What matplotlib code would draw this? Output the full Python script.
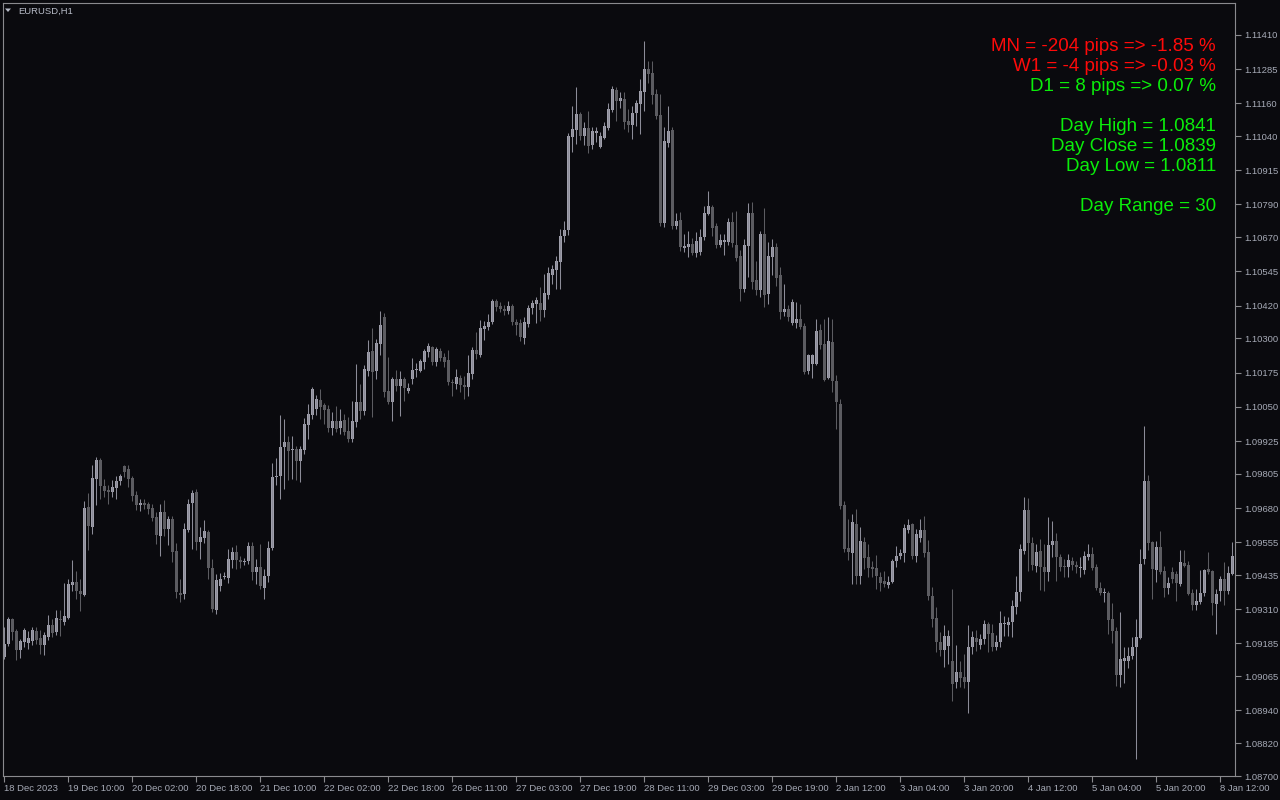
#!/usr/bin/env python
""" EURUSD H1 candle chart, MT4 dark style """

# Imports
import numpy as np
import matplotlib as mpl

mpl.use("Agg")
import matplotlib.pyplot as plt
from matplotlib.patches import Polygon

# Fonts
mpl.rcParams["font.family"] = ["Liberation Sans", "DejaVu Sans"]

# Hourly bars, 18 Dec 2023 .. 8 Jan 2024
open_ = [
    1.09135, 1.09183, 1.09274, 1.09231, 1.09160, 1.09190, 1.09186, 1.09194, 1.09231, 1.09205,
    1.09179, 1.09209, 1.09252, 1.09227, 1.09274, 1.09263, 1.09278, 1.09398, 1.09409, 1.09377,
    1.09362, 1.09684, 1.09611, 1.09786, 1.09855, 1.09760, 1.09746, 1.09739, 1.09753, 1.09779,
    1.09833, 1.09823, 1.09790, 1.09728, 1.09691, 1.09698, 1.09695, 1.09680, 1.09647, 1.09577,
    1.09665, 1.09603, 1.09640, 1.09523, 1.09369, 1.09366, 1.09599, 1.09698, 1.09739, 1.09556,
    1.09570, 1.09592, 1.09461, 1.09307, 1.09394, 1.09428, 1.09424, 1.09490, 1.09519, 1.09490,
    1.09483, 1.09487, 1.09541, 1.09446, 1.09465, 1.09387, 1.09431, 1.09534, 1.09794, 1.09797,
    1.09903, 1.09921, 1.09892, 1.09896, 1.09852, 1.09892, 1.09984, 1.10020, 1.10042, 1.10075,
    1.10057, 1.10042, 1.09973, 1.09999, 1.09973, 1.10002, 1.09962, 1.09932, 1.09995, 1.10068,
    1.10035, 1.10181, 1.10255, 1.10181, 1.10280, 1.10379, 1.10108, 1.10068, 1.10152, 1.10126,
    1.10152, 1.10108, 1.10152, 1.10184, 1.10181, 1.10214, 1.10251, 1.10269, 1.10214, 1.10255,
    1.10233, 1.10221, 1.10141, 1.10134, 1.10155, 1.10130, 1.10123, 1.10170, 1.10258, 1.10240,
    1.10335, 1.10342, 1.10360, 1.10437, 1.10418, 1.10408, 1.10401, 1.10418, 1.10360, 1.10356,
    1.10302, 1.10353, 1.10411, 1.10426, 1.10429, 1.10404, 1.10459, 1.10532, 1.10550, 1.10580,
    1.10674, 1.10696, 1.11037, 1.11062, 1.11121, 1.11040, 1.11070, 1.11008, 1.11051, 1.11001,
    1.11033, 1.11070, 1.11135, 1.11208, 1.11169, 1.11176, 1.11096, 1.11081, 1.11124, 1.11158,
    1.11201, 1.11286, 1.11271, 1.11194, 1.11117, 1.10722, 1.11015, 1.11062, 1.10711, 1.10733,
    1.10631, 1.10635, 1.10646, 1.10612, 1.10616, 1.10671, 1.10756, 1.10781, 1.10711, 1.10642,
    1.10653, 1.10653, 1.10726, 1.10642, 1.10601, 1.10481, 1.10638, 1.10759, 1.10514, 1.10477,
    1.10682, 1.10463, 1.10598, 1.10635, 1.10532, 1.10397, 1.10408, 1.10356, 1.10356, 1.10371,
    1.10345, 1.10181, 1.10207, 1.10207, 1.10331, 1.10280, 1.10155, 1.10287, 1.10145, 1.10061,
    1.09691, 1.09534, 1.09515, 1.09622, 1.09431, 1.09556, 1.09501, 1.09465, 1.09461, 1.09428,
    1.09413, 1.09398, 1.09409, 1.09487, 1.09504, 1.09515, 1.09599, 1.09622, 1.09504, 1.09570,
    1.09599, 1.09519, 1.09358, 1.09278, 1.09190, 1.09160, 1.09175, 1.09121, 1.09044, 1.09080,
    1.09062, 1.09044, 1.09172, 1.09205, 1.09179, 1.09201, 1.09256, 1.09223, 1.09172, 1.09190,
    1.09256, 1.09252, 1.09263, 1.09318, 1.09373, 1.09523, 1.09672, 1.09552, 1.09468, 1.09523,
    1.09465, 1.09446, 1.09545, 1.09560, 1.09501, 1.09468, 1.09465, 1.09487, 1.09472, 1.09461,
    1.09453, 1.09501, 1.09512, 1.09465, 1.09387, 1.09369, 1.09369, 1.09274, 1.09231, 1.09069,
    1.09121, 1.09121, 1.09138, 1.09172, 1.09205, 1.09494, 1.09779, 1.09556, 1.09453, 1.09538,
    1.09450, 1.09387, 1.09446, 1.09439, 1.09402, 1.09479, 1.09472, 1.09369, 1.09325, 1.09336,
    1.09369, 1.09457, 1.09450, 1.09329, 1.09377, 1.09420, 1.09377, 1.09439,
]

high = [
    1.09245, 1.09282, 1.09278, 1.09238, 1.09201, 1.09241, 1.09231, 1.09245, 1.09245, 1.09234,
    1.09227, 1.09289, 1.09274, 1.09307, 1.09307, 1.09405, 1.09420, 1.09490, 1.09450, 1.09420,
    1.09706, 1.09735, 1.09837, 1.09867, 1.09863, 1.09786, 1.09764, 1.09782, 1.09797, 1.09805,
    1.09837, 1.09837, 1.09797, 1.09743, 1.09713, 1.09713, 1.09702, 1.09695, 1.09665, 1.09695,
    1.09709, 1.09650, 1.09650, 1.09552, 1.09420, 1.09625, 1.09713, 1.09746, 1.09750, 1.09611,
    1.09636, 1.09599, 1.09494, 1.09439, 1.09442, 1.09446, 1.09530, 1.09538, 1.09545, 1.09504,
    1.09497, 1.09556, 1.09556, 1.09494, 1.09549, 1.09457, 1.09560, 1.09844, 1.09863, 1.10020,
    1.10006, 1.09943, 1.09943, 1.09906, 1.09906, 1.10009, 1.10061, 1.10123, 1.10093, 1.10115,
    1.10064, 1.10057, 1.10031, 1.10053, 1.10042, 1.10024, 1.10013, 1.10072, 1.10207, 1.10134,
    1.10203, 1.10294, 1.10338, 1.10298, 1.10401, 1.10393, 1.10233, 1.10159, 1.10184, 1.10181,
    1.10159, 1.10137, 1.10229, 1.10210, 1.10225, 1.10262, 1.10283, 1.10272, 1.10269, 1.10265,
    1.10247, 1.10258, 1.10152, 1.10188, 1.10166, 1.10162, 1.10240, 1.10269, 1.10324, 1.10367,
    1.10364, 1.10390, 1.10444, 1.10444, 1.10433, 1.10422, 1.10437, 1.10426, 1.10371, 1.10371,
    1.10379, 1.10422, 1.10440, 1.10452, 1.10489, 1.10536, 1.10562, 1.10569, 1.10601, 1.10700,
    1.10730, 1.11051, 1.11150, 1.11220, 1.11128, 1.11092, 1.11132, 1.11074, 1.11074, 1.11055,
    1.11092, 1.11161, 1.11223, 1.11220, 1.11201, 1.11201, 1.11139, 1.11150, 1.11172, 1.11249,
    1.11388, 1.11315, 1.11315, 1.11212, 1.11194, 1.11074, 1.11150, 1.11074, 1.10759, 1.10763,
    1.10682, 1.10693, 1.10667, 1.10689, 1.10700, 1.10784, 1.10840, 1.10788, 1.10722, 1.10682,
    1.10682, 1.10741, 1.10763, 1.10767, 1.10623, 1.10664, 1.10795, 1.10799, 1.10584, 1.10693,
    1.10777, 1.10653, 1.10664, 1.10649, 1.10562, 1.10500, 1.10422, 1.10444, 1.10433, 1.10426,
    1.10356, 1.10244, 1.10244, 1.10371, 1.10353, 1.10371, 1.10379, 1.10371, 1.10166, 1.10079,
    1.09706, 1.09640, 1.09658, 1.09676, 1.09611, 1.09574, 1.09549, 1.09487, 1.09508, 1.09446,
    1.09450, 1.09431, 1.09494, 1.09541, 1.09530, 1.09622, 1.09640, 1.09625, 1.09603, 1.09640,
    1.09650, 1.09563, 1.09391, 1.09318, 1.09227, 1.09252, 1.09234, 1.09384, 1.09179, 1.09121,
    1.09146, 1.09252, 1.09231, 1.09234, 1.09220, 1.09270, 1.09263, 1.09256, 1.09216, 1.09304,
    1.09285, 1.09282, 1.09343, 1.09431, 1.09549, 1.09721, 1.09717, 1.09574, 1.09549, 1.09567,
    1.09549, 1.09647, 1.09633, 1.09588, 1.09512, 1.09494, 1.09512, 1.09501, 1.09487, 1.09501,
    1.09523, 1.09549, 1.09538, 1.09476, 1.09409, 1.09387, 1.09377, 1.09332, 1.09245, 1.09300,
    1.09172, 1.09172, 1.09209, 1.09274, 1.09530, 1.09980, 1.09801, 1.09560, 1.09560, 1.09596,
    1.09468, 1.09428, 1.09465, 1.09450, 1.09526, 1.09526, 1.09487, 1.09384, 1.09384, 1.09453,
    1.09457, 1.09519, 1.09455, 1.09384, 1.09431, 1.09483, 1.09468, 1.09556,
]

low = [
    1.09128, 1.09175, 1.09197, 1.09124, 1.09131, 1.09172, 1.09164, 1.09179, 1.09183, 1.09146,
    1.09142, 1.09197, 1.09209, 1.09216, 1.09212, 1.09252, 1.09274, 1.09377, 1.09347, 1.09304,
    1.09358, 1.09526, 1.09585, 1.09691, 1.09713, 1.09721, 1.09695, 1.09721, 1.09713, 1.09764,
    1.09794, 1.09757, 1.09706, 1.09672, 1.09669, 1.09676, 1.09658, 1.09633, 1.09549, 1.09504,
    1.09577, 1.09545, 1.09483, 1.09351, 1.09336, 1.09347, 1.09592, 1.09530, 1.09526, 1.09494,
    1.09552, 1.09420, 1.09300, 1.09293, 1.09377, 1.09420, 1.09405, 1.09461, 1.09457, 1.09461,
    1.09472, 1.09476, 1.09416, 1.09402, 1.09384, 1.09347, 1.09409, 1.09526, 1.09764, 1.09713,
    1.09750, 1.09782, 1.09786, 1.09782, 1.09775, 1.09878, 1.09932, 1.10006, 1.10020, 1.10006,
    1.09988, 1.09958, 1.09947, 1.09958, 1.09951, 1.09947, 1.09921, 1.09921, 1.09977, 1.10006,
    1.10020, 1.10162, 1.10013, 1.10152, 1.10240, 1.10086, 1.10061, 1.09999, 1.10108, 1.10016,
    1.10072, 1.10100, 1.10134, 1.10159, 1.10177, 1.10188, 1.10233, 1.10203, 1.10199, 1.10218,
    1.10196, 1.10130, 1.10089, 1.10115, 1.10104, 1.10079, 1.10089, 1.10152, 1.10225, 1.10233,
    1.10294, 1.10331, 1.10353, 1.10401, 1.10397, 1.10386, 1.10390, 1.10349, 1.10313, 1.10291,
    1.10280, 1.10342, 1.10390, 1.10356, 1.10364, 1.10379, 1.10444, 1.10500, 1.10481, 1.10481,
    1.10653, 1.10678, 1.10982, 1.11012, 1.11026, 1.11008, 1.10978, 1.10993, 1.11019, 1.10997,
    1.11030, 1.11062, 1.11128, 1.11096, 1.11143, 1.11066, 1.11055, 1.11030, 1.11077, 1.11048,
    1.11132, 1.11234, 1.11158, 1.11103, 1.10711, 1.10708, 1.11001, 1.10700, 1.10700, 1.10620,
    1.10616, 1.10598, 1.10605, 1.10598, 1.10605, 1.10660, 1.10752, 1.10674, 1.10631, 1.10635,
    1.10605, 1.10642, 1.10635, 1.10584, 1.10437, 1.10470, 1.10525, 1.10481, 1.10459, 1.10452,
    1.10415, 1.10426, 1.10532, 1.10492, 1.10371, 1.10382, 1.10364, 1.10349, 1.10338, 1.10335,
    1.10170, 1.10170, 1.10155, 1.10203, 1.10262, 1.10145, 1.10152, 1.10104, 1.09969, 1.09676,
    1.09519, 1.09490, 1.09402, 1.09402, 1.09402, 1.09457, 1.09428, 1.09428, 1.09384, 1.09377,
    1.09391, 1.09387, 1.09405, 1.09465, 1.09494, 1.09483, 1.09588, 1.09494, 1.09483, 1.09556,
    1.09501, 1.09343, 1.09245, 1.09153, 1.09138, 1.09099, 1.09110, 1.08975, 1.09022, 1.09026,
    1.09022, 1.08930, 1.09146, 1.09157, 1.09164, 1.09183, 1.09153, 1.09157, 1.09160, 1.09172,
    1.09212, 1.09212, 1.09209, 1.09293, 1.09340, 1.09512, 1.09450, 1.09453, 1.09446, 1.09380,
    1.09377, 1.09413, 1.09501, 1.09413, 1.09450, 1.09428, 1.09428, 1.09453, 1.09442, 1.09428,
    1.09439, 1.09490, 1.09453, 1.09380, 1.09362, 1.09336, 1.09220, 1.09186, 1.09029, 1.09026,
    1.09040, 1.09095, 1.09128, 1.08762, 1.09201, 1.09476, 1.09526, 1.09347, 1.09409, 1.09439,
    1.09354, 1.09366, 1.09405, 1.09340, 1.09394, 1.09465, 1.09362, 1.09307, 1.09307, 1.09330,
    1.09358, 1.09439, 1.09289, 1.09220, 1.09340, 1.09325, 1.09366, 1.09435,
]

close = [
    1.09183, 1.09274, 1.09227, 1.09160, 1.09194, 1.09234, 1.09205, 1.09234, 1.09197, 1.09179,
    1.09216, 1.09252, 1.09223, 1.09278, 1.09270, 1.09285, 1.09402, 1.09409, 1.09377, 1.09366,
    1.09680, 1.09614, 1.09790, 1.09855, 1.09760, 1.09743, 1.09739, 1.09757, 1.09779, 1.09797,
    1.09812, 1.09786, 1.09724, 1.09691, 1.09698, 1.09691, 1.09676, 1.09643, 1.09581, 1.09665,
    1.09603, 1.09640, 1.09519, 1.09373, 1.09362, 1.09603, 1.09695, 1.09735, 1.09556, 1.09574,
    1.09596, 1.09461, 1.09311, 1.09416, 1.09420, 1.09431, 1.09494, 1.09519, 1.09490, 1.09483,
    1.09487, 1.09541, 1.09446, 1.09465, 1.09394, 1.09431, 1.09534, 1.09794, 1.09797, 1.09903,
    1.09921, 1.09889, 1.09892, 1.09852, 1.09896, 1.09988, 1.10024, 1.10115, 1.10079, 1.10050,
    1.10038, 1.09973, 1.09999, 1.09969, 1.09999, 1.09958, 1.09932, 1.09999, 1.10068, 1.10035,
    1.10188, 1.10251, 1.10177, 1.10283, 1.10349, 1.10104, 1.10068, 1.10152, 1.10126, 1.10152,
    1.10119, 1.10119, 1.10184, 1.10186, 1.10218, 1.10255, 1.10272, 1.10214, 1.10262, 1.10229,
    1.10214, 1.10141, 1.10137, 1.10159, 1.10130, 1.10123, 1.10173, 1.10258, 1.10244, 1.10338,
    1.10345, 1.10360, 1.10437, 1.10415, 1.10408, 1.10401, 1.10418, 1.10360, 1.10349, 1.10306,
    1.10360, 1.10411, 1.10429, 1.10440, 1.10404, 1.10466, 1.10539, 1.10554, 1.10584, 1.10674,
    1.10696, 1.11040, 1.11066, 1.11121, 1.11040, 1.11070, 1.11004, 1.11059, 1.11059, 1.11040,
    1.11077, 1.11139, 1.11212, 1.11169, 1.11179, 1.11092, 1.11081, 1.11124, 1.11161, 1.11205,
    1.11286, 1.11268, 1.11190, 1.11113, 1.10722, 1.11023, 1.11059, 1.10711, 1.10730, 1.10635,
    1.10638, 1.10646, 1.10612, 1.10657, 1.10671, 1.10759, 1.10784, 1.10704, 1.10642, 1.10660,
    1.10660, 1.10726, 1.10649, 1.10594, 1.10481, 1.10642, 1.10759, 1.10507, 1.10477, 1.10682,
    1.10459, 1.10601, 1.10635, 1.10521, 1.10397, 1.10408, 1.10379, 1.10433, 1.10371, 1.10342,
    1.10177, 1.10240, 1.10240, 1.10328, 1.10276, 1.10148, 1.10291, 1.10145, 1.10068, 1.09687,
    1.09530, 1.09519, 1.09629, 1.09431, 1.09560, 1.09497, 1.09461, 1.09457, 1.09431, 1.09405,
    1.09402, 1.09409, 1.09487, 1.09504, 1.09515, 1.09607, 1.09618, 1.09504, 1.09585, 1.09599,
    1.09515, 1.09358, 1.09274, 1.09190, 1.09160, 1.09212, 1.09212, 1.09037, 1.09080, 1.09058,
    1.09044, 1.09172, 1.09209, 1.09190, 1.09201, 1.09256, 1.09220, 1.09172, 1.09190, 1.09259,
    1.09258, 1.09263, 1.09321, 1.09373, 1.09530, 1.09672, 1.09552, 1.09472, 1.09519, 1.09465,
    1.09446, 1.09545, 1.09560, 1.09501, 1.09465, 1.09466, 1.09490, 1.09472, 1.09465, 1.09463,
    1.09504, 1.09512, 1.09461, 1.09387, 1.09369, 1.09373, 1.09270, 1.09231, 1.09069, 1.09128,
    1.09131, 1.09138, 1.09172, 1.09209, 1.09476, 1.09779, 1.09552, 1.09457, 1.09538, 1.09446,
    1.09387, 1.09405, 1.09420, 1.09405, 1.09483, 1.09468, 1.09366, 1.09325, 1.09340, 1.09369,
    1.09453, 1.09446, 1.09332, 1.09366, 1.09420, 1.09377, 1.09442, 1.09504,
]

# Axis labels as shown by the terminal
time_labels = [
    "18 Dec 2023", "19 Dec 10:00", "20 Dec 02:00", "20 Dec 18:00", "21 Dec 10:00",
    "22 Dec 02:00", "22 Dec 18:00", "26 Dec 11:00", "27 Dec 03:00", "27 Dec 19:00",
    "28 Dec 11:00", "29 Dec 03:00", "29 Dec 19:00", "2 Jan 12:00", "3 Jan 04:00",
    "3 Jan 20:00", "4 Jan 12:00", "5 Jan 04:00", "5 Jan 20:00", "8 Jan 12:00",
]
bars_per_label = 16

price_ticks = [
    1.11410, 1.11285, 1.11160, 1.11040, 1.10915, 1.10790, 1.10670, 1.10545,
    1.10420, 1.10300, 1.10175, 1.10050, 1.09925, 1.09805, 1.09680, 1.09555,
    1.09435, 1.09310, 1.09185, 1.09065, 1.08940, 1.08820, 1.08700,
]

# Info panel (text, colour)
info_lines = [
    ("MN = -204 pips => -1.85 %", "red"),
    ("W1 = -4 pips => -0.03 %", "red"),
    ("D1 = 8 pips => 0.07 %", "lime"),
    ("", None),
    ("Day High = 1.0841", "lime"),
    ("Day Close = 1.0839", "lime"),
    ("Day Low = 1.0811", "lime"),
    ("", None),
    ("Day Range = 30", "lime"),
]


def main():
    """ Main function """

    bg = "#0a0a0e"
    frame = "#8a8a8e"
    label_col = "#a6aab6"
    bull_body, bear_body = "#a0a0ac", "#5c5c61"
    bull_wick, bear_wick = "#8c8c98", "#5c5c61"
    colour_map = {"red": "#ff0a0a", "lime": "#0aee0a"}

    W, H = 1280, 800
    fig = plt.figure(figsize=(W / 100, H / 100), dpi=100, facecolor=bg)
    ax = fig.add_axes([2.5 / W, 24 / H, 1232 / W, 773 / H], facecolor=bg)

    o = np.array(open_)
    h = np.array(high)
    lo = np.array(low)
    c = np.array(close)
    n = min(len(o), len(h), len(lo), len(c))
    o, h, lo, c = o[:n], h[:n], lo[:n], c[:n]
    x = np.arange(n)
    up = c >= o

    # wicks
    ax.vlines(x, lo, h, colors=np.where(up, bull_wick, bear_wick), linewidth=0.75)
    # bodies (dojis get a one-pixel line)
    body = np.maximum(np.abs(c - o), 0.00003)
    ax.bar(
        x,
        body,
        bottom=np.minimum(o, c),
        width=0.75,
        color=np.where(up, bull_body, bear_body),
        linewidth=0,
    )

    px = 3.657e-5
    ax.set_ylim(1.08700, 1.08700 + 773 * px)
    ax.set_xlim(-0.375, 307.625)

    # frame
    for sp in ax.spines.values():
        sp.set_color(frame)
        sp.set_linewidth(0.8)

    # time axis
    xt = np.arange(len(time_labels)) * bars_per_label - 0.125
    ax.set_xticks(xt)
    ax.set_xticklabels(time_labels, ha="left")
    ax.tick_params(
        axis="x", direction="out", length=4, width=0.8, color=frame,
        labelcolor=label_col, labelsize=6.8, pad=2,
    )

    # price axis
    ax.yaxis.tick_right()
    ax.set_yticks(price_ticks)
    ax.set_yticklabels(["{:.5f}".format(v) for v in price_ticks])
    ax.tick_params(
        axis="y", direction="out", length=4, width=0.8, color=frame,
        labelcolor=label_col, labelsize=6.8, pad=3,
    )

    # symbol caption
    fig.text(18 / W, 1 - 14 / H, "EURUSD,H1", color="#b8bcc8", fontsize=6.8, va="baseline")
    tri = Polygon(
        [[5 / W, 1 - 8.5 / H], [11 / W, 1 - 8.5 / H], [8 / W, 1 - 12 / H]],
        closed=True, transform=fig.transFigure, facecolor="#b8bcc8", edgecolor="none",
    )
    fig.add_artist(tri)

    # info panel
    for k, (txt, col) in enumerate(info_lines):
        if not txt:
            continue
        fig.text(
            1216 / W, 1 - (51 + 20 * k) / H, txt, color=colour_map[col],
            fontsize=13.5, ha="right", va="baseline",
        )

    fig.savefig("out.png", dpi=100, facecolor=bg)


if __name__ == "__main__":
    main()
